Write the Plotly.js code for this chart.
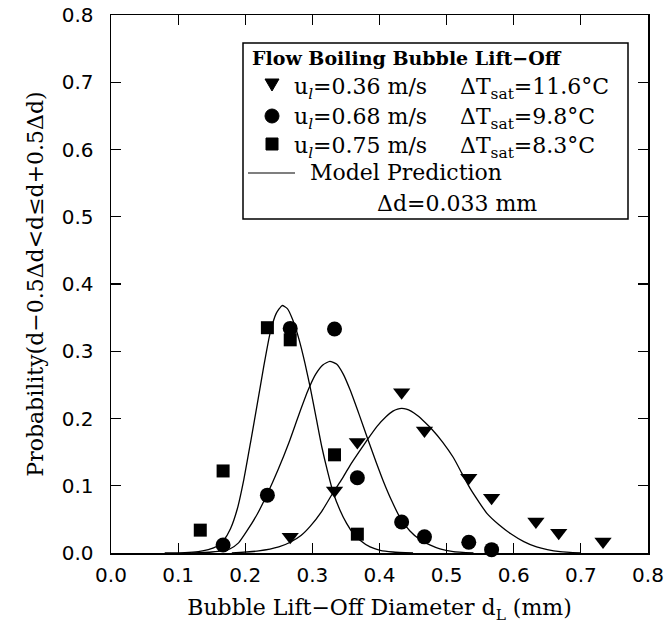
<!DOCTYPE html>
<html>
<head>
<meta charset="utf-8">
<script src="https://cdn.plot.ly/plotly-3.0.1.min.js"></script>
<style>html,body{margin:0;padding:0;background:#fff;}#plot{width:664px;height:630px;}</style>
</head>
<body>
<div id="plot"></div>
<script>
// Measured data (bin width 0.033 mm)
const triX = [0.267, 0.333, 0.367, 0.433, 0.467, 0.533, 0.567, 0.633, 0.667, 0.733];
const triY = [0.024, 0.093, 0.165, 0.239, 0.182, 0.112, 0.082, 0.047, 0.030, 0.017];
const cirX = [0.167, 0.233, 0.267, 0.333, 0.367, 0.433, 0.467, 0.533, 0.567];
const cirY = [0.012, 0.086, 0.334, 0.333, 0.112, 0.046, 0.024, 0.016, 0.005];
const sqX  = [0.133, 0.167, 0.233, 0.267, 0.333, 0.367];
const sqY  = [0.034, 0.122, 0.335, 0.317, 0.146, 0.028];

// Model prediction curves
const modSqX = [0.08, 0.11, 0.13, 0.145, 0.158, 0.168, 0.178, 0.188, 0.198, 0.208, 0.218, 0.228, 0.237, 0.246, 0.255, 0.263, 0.271, 0.28, 0.289, 0.297, 0.306, 0.314, 0.323, 0.331, 0.341, 0.351, 0.361, 0.371, 0.386, 0.401, 0.42, 0.45];
const modSqY = [0.000, 0.0005, 0.002, 0.005, 0.010, 0.019, 0.036, 0.065, 0.110, 0.165, 0.222, 0.280, 0.327, 0.356, 0.368, 0.363, 0.346, 0.318, 0.282, 0.245, 0.199, 0.158, 0.120, 0.090, 0.064, 0.044, 0.029, 0.019, 0.009, 0.004, 0.0015, 0.000];
const modCirX = [0.12, 0.15, 0.165, 0.177, 0.19, 0.202, 0.218, 0.233, 0.249, 0.265, 0.28, 0.294, 0.305, 0.316, 0.326, 0.336, 0.346, 0.356, 0.37, 0.383, 0.395, 0.406, 0.418, 0.431, 0.445, 0.46, 0.475, 0.49, 0.51, 0.54];
const modCirY = [0.000, 0.0015, 0.003, 0.006, 0.015, 0.032, 0.058, 0.088, 0.124, 0.164, 0.206, 0.243, 0.266, 0.280, 0.285, 0.281, 0.266, 0.243, 0.205, 0.168, 0.135, 0.106, 0.078, 0.052, 0.033, 0.020, 0.012, 0.006, 0.002, 0.000];
const modTriX = [0.18, 0.22, 0.25, 0.267, 0.283, 0.297, 0.314, 0.331, 0.344, 0.356, 0.37, 0.383, 0.396, 0.41, 0.42, 0.427, 0.433, 0.44, 0.447, 0.457, 0.468, 0.478, 0.494, 0.51, 0.523, 0.535, 0.548, 0.56, 0.578, 0.595, 0.615, 0.634, 0.65, 0.669, 0.70];
const modTriY = [0.000, 0.003, 0.009, 0.016, 0.026, 0.040, 0.062, 0.090, 0.110, 0.130, 0.151, 0.170, 0.188, 0.203, 0.211, 0.214, 0.215, 0.214, 0.211, 0.204, 0.194, 0.184, 0.165, 0.142, 0.118, 0.096, 0.076, 0.059, 0.042, 0.029, 0.017, 0.009, 0.005, 0.002, 0.000];

const tickVals = [0, 0.1, 0.2, 0.3, 0.4, 0.5, 0.6, 0.7, 0.8];
const tickText = ['0.0', '0.1', '0.2', '0.3', '0.4', '0.5', '0.6', '0.7', '0.8'];

const legendTitle = '<b>Flow Boiling Bubble Lift\u2212Off</b>';
const legendU = ['u<sub><i>l</i></sub>=0.36 m/s', 'u<sub><i>l</i></sub>=0.68 m/s', 'u<sub><i>l</i></sub>=0.75 m/s'];
const legendT = ['\u0394T<sub>sat</sub>=11.6\u00B0C', '\u0394T<sub>sat</sub>=9.8\u00B0C', '\u0394T<sub>sat</sub>=8.3\u00B0C'];
const legendModel = 'Model Prediction';
const legendDd = '\u0394d=0.033 mm';

const serif = 'DejaVu Serif';
const sans = 'DejaVu Sans';

const lineStyle = {color: '#000', width: 1.3, shape: 'spline', smoothing: 0.5};
const traces = [
  {x: modSqX, y: modSqY, mode: 'lines', line: lineStyle, hoverinfo: 'skip'},
  {x: modCirX, y: modCirY, mode: 'lines', line: lineStyle, hoverinfo: 'skip'},
  {x: modTriX, y: modTriY, mode: 'lines', line: lineStyle, hoverinfo: 'skip'},
  {x: triX, y: triY, mode: 'markers', marker: {symbol: 'triangle-down', size: 15, color: '#000'}, cliponaxis: false},
  {x: cirX, y: cirY, mode: 'markers', marker: {symbol: 'circle', size: 15, color: '#000'}, cliponaxis: false},
  {x: sqX, y: sqY, mode: 'markers', marker: {symbol: 'square', size: 13, color: '#000'}, cliponaxis: false}
];

// pixel helpers for the legend box (plot area: x 111..648, y 15..553)
const PX = p => (p - 111) / 537;
const PY = p => (553 - p) / 538;

const rowY = [85, 116, 144];
const annFont = {family: serif, size: 22, color: '#000'};
const annotations = [
  {text: legendTitle, x: PX(250), y: PY(58), xanchor: 'left', yanchor: 'middle', font: {family: serif, size: 19, color: '#000'}},
  {text: legendModel, x: PX(308), y: PY(173), xanchor: 'left', yanchor: 'middle', font: annFont},
  {text: legendDd, x: PX(375), y: PY(203), xanchor: 'left', yanchor: 'middle', font: annFont}
];
for (let i = 0; i < 3; i++) {
  annotations.push({text: legendU[i], x: PX(292), y: PY(rowY[i] + 3), xanchor: 'left', yanchor: 'middle', font: annFont});
  annotations.push({text: legendT[i], x: PX(458), y: PY(rowY[i] + 3), xanchor: 'left', yanchor: 'middle', font: annFont});
}
annotations.forEach(a => { a.xref = 'paper'; a.yref = 'paper'; a.showarrow = false; });

const shapes = [
  {type: 'rect', xref: 'paper', yref: 'paper', x0: PX(243), x1: PX(628), y0: PY(219), y1: PY(43),
   line: {color: '#000', width: 1.5}, fillcolor: '#fff', layer: 'below'},
  {type: 'path', xref: 'paper', yref: 'paper',
   path: `M ${PX(265)} ${PY(79)} L ${PX(279)} ${PY(79)} L ${PX(272)} ${PY(91)} Z`,
   fillcolor: '#000', line: {color: '#000', width: 1}},
  {type: 'circle', xref: 'paper', yref: 'paper', x0: PX(265), x1: PX(279), y0: PY(123), y1: PY(109),
   fillcolor: '#000', line: {color: '#000', width: 1}},
  {type: 'rect', xref: 'paper', yref: 'paper', x0: PX(266), x1: PX(278), y0: PY(150), y1: PY(138),
   fillcolor: '#000', line: {color: '#000', width: 1}},
  {type: 'line', xref: 'paper', yref: 'paper', x0: PX(248), x1: PX(295), y0: PY(173), y1: PY(173),
   line: {color: '#000', width: 1.2}}
];

const axisCommon = {
  range: [0, 0.8], tickvals: tickVals, ticktext: tickText,
  ticks: 'inside', ticklen: 10, tickwidth: 1.2, tickcolor: '#000',
  showline: true, linecolor: '#000', linewidth: 1.5, mirror: 'ticks',
  showgrid: false, zeroline: false,
  tickfont: {family: sans, size: 20, color: '#000'}
};

const layout = {
  width: 664, height: 630,
  margin: {l: 111, r: 16, t: 15, b: 77},
  paper_bgcolor: '#fff', plot_bgcolor: '#fff',
  showlegend: false,
  xaxis: Object.assign({}, axisCommon, {
    ticklabelstandoff: 3,
    title: {text: 'Bubble Lift\u2212Off Diameter d<sub>L</sub> (mm)', font: {family: serif, size: 22, color: '#000'}, standoff: 14}
  }),
  yaxis: Object.assign({}, axisCommon, {
    ticklabelstandoff: 12,
    title: {text: 'Probability(d\u22120.5\u0394d<d\u2264d+0.5\u0394d)', font: {family: serif, size: 22, color: '#000'}, standoff: 12}
  }),
  annotations: annotations,
  shapes: shapes
};

Plotly.newPlot('plot', traces, layout, {staticPlot: true, displayModeBar: false});
</script>
</body>
</html>
